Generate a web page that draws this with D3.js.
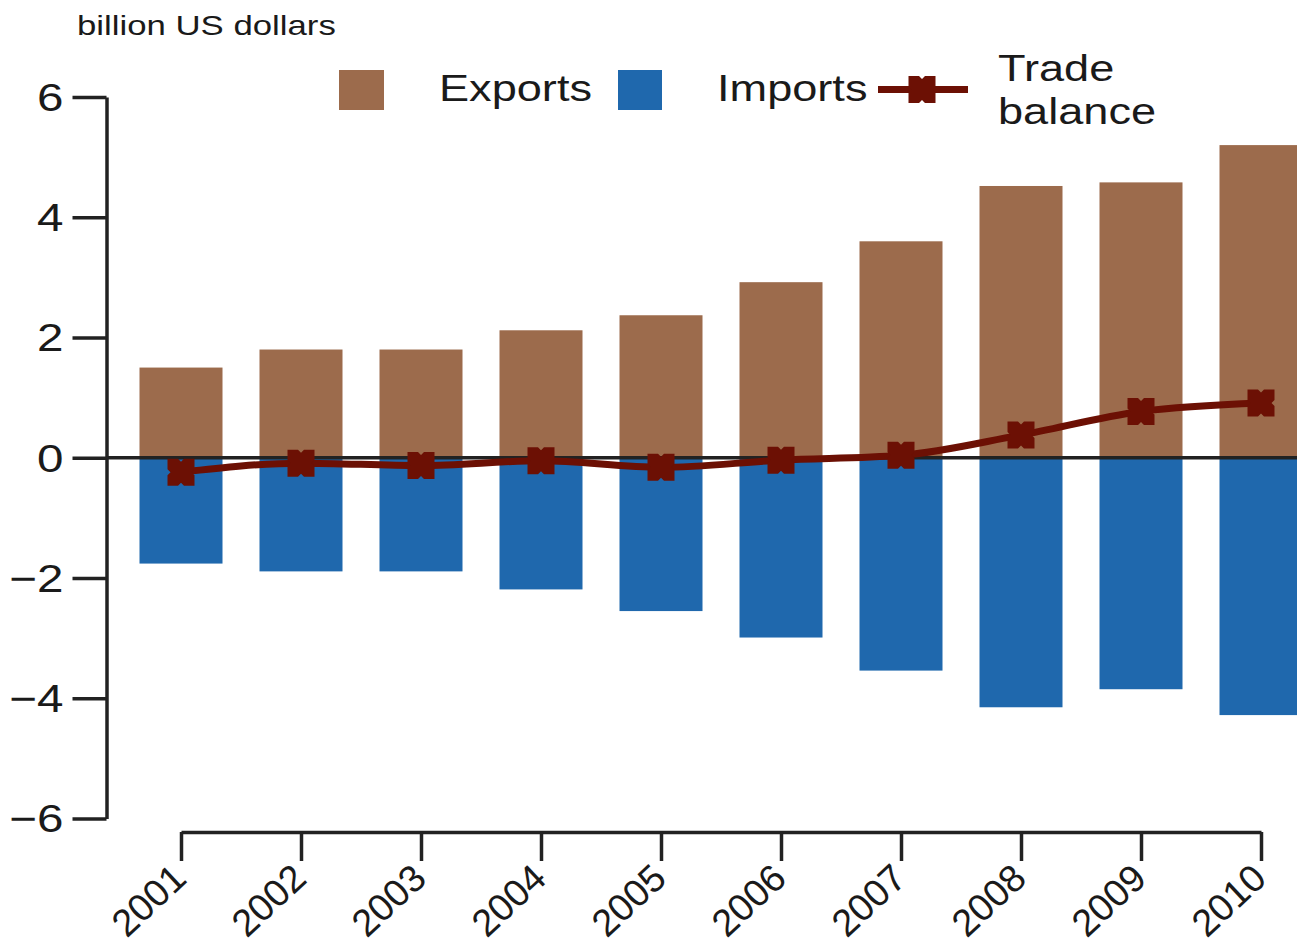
<!DOCTYPE html>
<html>

<head>
    <meta charset="utf-8">
    <style>
        body {
            margin: 0;
            background: #fff;
            overflow: hidden;
        }

        svg {
            display: block;
            font-family: "Liberation Sans", Arial, sans-serif;
        }

        .axis .domain,
        .axis .tick line {
            stroke: #222;
            stroke-width: 3.5;
        }

        .axis text {
            fill: #1a1a1a;
        }

        .label {
            fill: #1a1a1a;
        }
    </style>
</head>

<body>
    <svg width="1297" height="944"></svg>

    <script src="https://cdn.jsdelivr.net/npm/d3@7"></script>

    <script>
        // data (billion US dollars)
        const years = ["2001", "2002", "2003", "2004", "2005", "2006", "2007", "2008", "2009", "2010"];
        const exportsVals = [1.5, 1.8, 1.8, 2.12, 2.37, 2.92, 3.6, 4.52, 4.58, 5.2];
        const importsVals = [-1.76, -1.89, -1.89, -2.19, -2.55, -2.99, -3.54, -4.15, -3.85, -4.28];
        const balanceVals = [-0.24, -0.09, -0.13, -0.05, -0.16, -0.04, 0.04, 0.38, 0.77, 0.91];
        const yTicks = [-6, -4, -2, 0, 2, 4, 6];

        const brown = "#9c6b4c";
        const blue = "#1f68ad";
        const darkRed = "#6c1004";
        const stretch = 1.22; // text in the picture is wide

        let svg = d3.select("svg");

        let x = d3.scalePoint()
            .domain(years)
            .range([181, 1261]);

        let y = d3.scaleLinear()
            .domain([-6, 6])
            .range([818.5, 97]);

        let barW = 83;

        // bars
        svg.append("g")
            .selectAll("rect")
            .data(years)
            .join("rect")
            .attr("x", d => x(d) - barW / 2)
            .attr("y", (d, i) => y(exportsVals[i]))
            .attr("width", barW)
            .attr("height", (d, i) => y(0) - y(exportsVals[i]))
            .attr("fill", brown);

        svg.append("g")
            .selectAll("rect")
            .data(years)
            .join("rect")
            .attr("x", d => x(d) - barW / 2)
            .attr("y", y(0))
            .attr("width", barW)
            .attr("height", (d, i) => y(importsVals[i]) - y(0))
            .attr("fill", blue);

        // zero line
        svg.append("line")
            .attr("x1", 106.5)
            .attr("x2", 1297)
            .attr("y1", y(0))
            .attr("y2", y(0))
            .attr("stroke", "#222")
            .attr("stroke-width", 3.5);

        // y axis
        let yAxis = svg.append("g")
            .attr("class", "y axis")
            .attr("transform", "translate(106.5,0)")
            .call(d3.axisLeft(y).tickValues(yTicks).tickSize(34).tickSizeOuter(0).tickPadding(9).tickFormat(d3.format("d")))
            .attr("font-size", null)
            .attr("font-family", null);

        yAxis.selectAll("text")
            .attr("font-size", 39)
            .attr("x", -43 / stretch)
            .attr("dy", "0.34em")
            .attr("transform", `scale(${stretch},1)`);

        // x axis
        let xAxis = svg.append("g")
            .attr("class", "x axis")
            .attr("transform", "translate(0,832)")
            .call(d3.axisBottom(x).tickSize(29).tickSizeOuter(0))
            .attr("font-size", null)
            .attr("font-family", null);

        xAxis.selectAll("text")
            .attr("font-size", 38)
            .attr("y", 0)
            .attr("dy", 0)
            .attr("text-anchor", "end")
            .attr("transform", "translate(7,49) rotate(-43)");

        // trade balance line
        let line = d3.line()
            .x((d, i) => x(years[i]))
            .y(d => y(d))
            .curve(d3.curveMonotoneX);

        svg.append("path")
            .datum(balanceVals)
            .attr("d", line)
            .attr("fill", "none")
            .attr("stroke", darkRed)
            .attr("stroke-width", 7);

        // notched square marker
        let s = 13.5, w = 3, n = 3;
        let markerPath = d3.path();
        [[-s, -s], [-w, -s], [0, -s + n], [w, -s], [s, -s], [s, -w], [s - n, 0], [s, w], [s, s], [w, s], [0, s - n], [-w, s], [-s, s], [-s, w], [-s + n, 0], [-s, -w]]
            .forEach((p, i) => i === 0 ? markerPath.moveTo(p[0], p[1]) : markerPath.lineTo(p[0], p[1]));
        markerPath.closePath();

        svg.append("g")
            .selectAll("path")
            .data(balanceVals)
            .join("path")
            .attr("d", markerPath.toString())
            .attr("transform", (d, i) => `translate(${x(years[i])},${y(d)})`)
            .attr("fill", darkRed);

        // texts
        function wideText(tx, ty, size, str) {
            svg.append("text")
                .attr("class", "label")
                .attr("transform", `translate(${tx},${ty}) scale(${stretch},1)`)
                .attr("font-size", size)
                .text(str);
        }

        wideText(77, 35, 28.5, "billion US dollars");

        // legend
        svg.append("rect").attr("x", 339).attr("y", 70).attr("width", 45).attr("height", 40).attr("fill", brown);
        wideText(439, 101, 37, "Exports");

        svg.append("rect").attr("x", 618).attr("y", 70).attr("width", 44).attr("height", 40).attr("fill", blue);
        wideText(717, 101, 37, "Imports");

        svg.append("line")
            .attr("x1", 878).attr("x2", 968)
            .attr("y1", 89.5).attr("y2", 89.5)
            .attr("stroke", darkRed)
            .attr("stroke-width", 7);
        svg.append("path")
            .attr("d", markerPath.toString())
            .attr("transform", "translate(922,89.5)")
            .attr("fill", darkRed);
        wideText(998, 81, 37, "Trade");
        wideText(998, 124, 37, "balance");
    </script>
</body>

</html>
